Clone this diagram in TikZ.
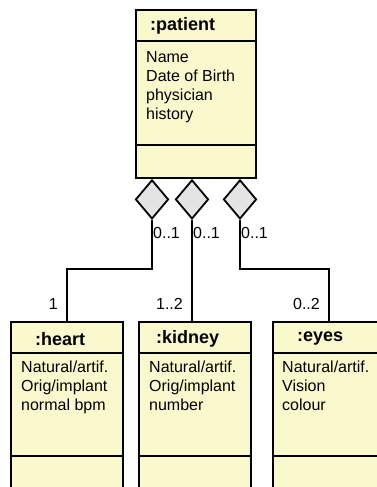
\documentclass[tikz,border=0pt]{standalone}
\usepackage{fontspec}
\setmainfont{Liberation Sans}
\usetikzlibrary{positioning,shapes.geometric,calc}
\definecolor{NoteYellow}{RGB}{250,249,205}
\definecolor{DiamondGrey}{RGB}{228,228,228}

\begin{document}
\begin{tikzpicture}[x=1pt, y=-1pt,
  classbox/.style={draw=black, line width=2pt, fill=NoteYellow, minimum width=112pt,
    minimum height=180pt, inner sep=0pt},
  title/.style={anchor=west, inner sep=0pt, font=\fontsize{18}{22}\selectfont\bfseries},
  attrs/.style={anchor=north west, inner sep=0pt, align=left, font=\fontsize{16}{19}\selectfont},
  agg/.style={diamond, draw=black, line width=1.8pt, fill=DiamondGrey, minimum width=33pt,
    minimum height=39pt, inner sep=0pt, anchor=north},
  link/.style={draw=black, line width=2pt},
  mult/.style={inner sep=1pt, font=\fontsize{16}{19}\selectfont}
]
\useasboundingbox (0,0) rectangle (377,487);
\clip (0,0) rectangle (377,487);

\node[classbox, minimum width=120pt, minimum height=168pt] (patient) at (196,94) {};
\draw[link] ([yshift=-32pt]patient.north west) -- ([yshift=-32pt]patient.north east);
\draw[link] ([yshift=-136pt]patient.north west) -- ([yshift=-136pt]patient.north east);
\node[title] (tpatient) at (150,26) {:patient};
\node[attrs] (apatient) at (146,51) {Name\\Date of Birth\\physician\\history};

\node[agg] (dheart) at ([xshift=-44pt]patient.south) {};
\node[agg] (dkidney) at ([xshift=-4pt]patient.south) {};
\node[agg] (deyes) at ([xshift=44pt]patient.south) {};

\node[classbox] (heart) at (67,412) {};
\node[classbox] (kidney) at (195,412) {};
\node[classbox] (eyes) at (329,412) {};

\draw[link] (dheart.south) |- ([yshift=52pt]heart.north) -- (heart.north);
\draw[link] (dkidney.south) -- (dkidney.south |- kidney.north);
\draw[link] (deyes.south) |- ([yshift=52pt]eyes.north) -- (eyes.north);

\foreach \part in {heart,kidney,eyes}{
  \draw[link] ([yshift=-32pt]\part.north west) -- ([yshift=-32pt]\part.north east);
  \draw[link] ([yshift=-135pt]\part.north west) -- ([yshift=-135pt]\part.north east);
}

\node[title] (theart) at (35,339) {:heart};
\node[title] (tkidney) at (156,339) {:kidney};
\node[title] (teyes) at (297,339) {:eyes};
\node[attrs] (aheart) at (21,361) {Natural/artif.\\Orig/implant\\normal bpm};
\node[attrs] (akidney) at (149,361) {Natural/artif.\\Orig/implant\\number};
\node[attrs] (aeyes) at (282,361) {Natural/artif.\\Vision\\colour};

\node[mult, anchor=west] (uheart) at (dheart.south |- 0,233) {0..1};
\node[mult, anchor=west] (ukidney) at (dkidney.south |- 0,233) {0..1};
\node[mult, anchor=west] (ueyes) at (deyes.south |- 0,233) {0..1};
\node[mult, anchor=east] (lheart) at (59,304) {1};
\node[mult, anchor=east] (lkidney) at (184,304) {1..2};
\node[mult, anchor=east] (leyes) at (321,304) {0..2};
\end{tikzpicture}
\end{document}
